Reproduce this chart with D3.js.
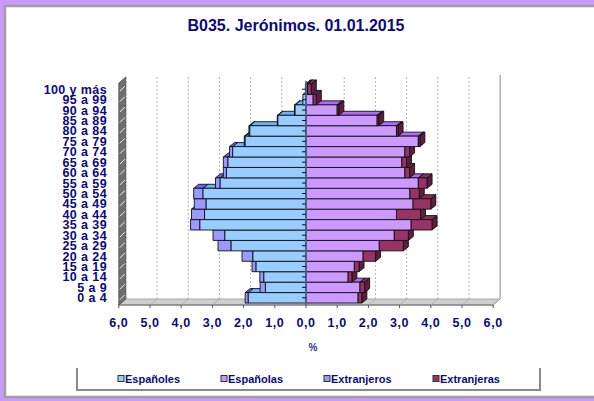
<!DOCTYPE html>
<html><head><meta charset="utf-8">
<script src="https://cdn.jsdelivr.net/npm/d3@7"></script>
<style>
html,body{margin:0;padding:0;background:#cc99ff;}
svg{display:block;}
text{font-family:"Liberation Sans",Arial,sans-serif;font-weight:bold;}
</style></head>
<body>
<svg id="c" width="594" height="401"></svg>
<script>
const title = "B035. Jerónimos. 01.01.2015";
const categories = ["0 a 4","5 a 9","10 a 14","15 a 19","20 a 24","25 a 29","30 a 34","35 a 39","40 a 44","45 a 49","50 a 54","55 a 59","60 a 64","65 a 69","70 a 74","75 a 79","80 a 84","85 a 89","90 a 94","95 a 99","100 y más"];
const espanoles   = [1.85,1.30,1.35,1.60,1.70,2.40,2.60,3.40,3.25,3.20,3.30,2.75,2.55,2.50,2.35,1.95,1.80,0.90,0.35,0.10,0.02];
const extranjeros = [0.10,0.17,0.13,0.13,0.35,0.42,0.38,0.30,0.42,0.38,0.30,0.15,0.10,0.15,0.10,0.03,0.03,0.02,0.02,0.00,0.00];
const espanolas   = [1.67,1.73,1.35,1.55,1.83,2.35,2.83,3.37,2.90,3.43,3.33,3.60,3.17,3.07,3.17,3.60,2.90,2.28,1.00,0.23,0.05];
const extranjeras = [0.12,0.15,0.12,0.15,0.40,0.77,0.45,0.67,0.77,0.57,0.30,0.28,0.15,0.15,0.15,0.05,0.05,0.05,0.05,0.10,0.12];
const xTicks = [-6,-5,-4,-3,-2,-1,0,1,2,3,4,5,6];
const xTickLabels = ["6,0","5,0","4,0","3,0","2,0","1,0","0,0","1,0","2,0","3,0","4,0","5,0","6,0"];
const seriesNames = ["Españoles","Españolas","Extranjeros","Extranjeras"];
const seriesColors = ["#99ccff","#cc99ff","#9999ff","#993366"];

const svg = d3.select("#c");
const navy = "#0a0a80";

// chart frame
svg.append("rect").attr("x",5).attr("y",6).attr("width",620).attr("height",391)
  .attr("fill","#fff").attr("stroke","#a0a0a0").attr("stroke-width",2.5);

svg.append("text").attr("x",296).attr("y",31).attr("text-anchor","middle")
  .attr("font-size",16).attr("fill",navy).text(title);

const x = d3.scaleLinear().domain([-6,6]).range([118.8,493.2]);
const y = d3.scaleBand().domain(categories).range([303,84]).padding(0);
const DX = 7, DY = -6;     // wall depth
const bx = 5, by = -4;     // bar depth
const yTop = 77, yFloorFront = 305;

// back gridlines
svg.append("g").selectAll("line").data(xTicks.filter(v=>v!==0 && v!==6)).join("line")
  .attr("x1",d=>x(d)+DX).attr("x2",d=>x(d)+DX).attr("y1",yTop).attr("y2",yFloorFront+DY)
  .attr("stroke","#b4b4b4").attr("stroke-dasharray","2,2").attr("stroke-width",1);
svg.append("line").attr("x1",x(6)+DX).attr("x2",x(6)+DX).attr("y1",yTop-2).attr("y2",yFloorFront+DY)
  .attr("stroke","#b0b0b0").attr("stroke-width",1.5);

// floor
svg.append("polygon").attr("points",[[x(-6),yFloorFront],[x(6),yFloorFront],[x(6)+DX,yFloorFront+DY],[x(-6)+DX,yFloorFront+DY]].join(" "))
  .attr("fill","#cfcfcf").attr("stroke","#9a9a9a").attr("stroke-width",0.8);
svg.append("line").attr("x1",x(-6)).attr("x2",x(6)).attr("y1",yFloorFront).attr("y2",yFloorFront)
  .attr("stroke","#6a6a6a").attr("stroke-width",1.2);
svg.append("g").selectAll("line").data(xTicks).join("line")
  .attr("x1",d=>x(d)).attr("x2",d=>x(d)+DX).attr("y1",yFloorFront).attr("y2",yFloorFront+DY)
  .attr("stroke","#a8a8a8").attr("stroke-width",0.8);
svg.append("g").selectAll("line").data(xTicks).join("line")
  .attr("x1",d=>x(d)).attr("x2",d=>x(d)).attr("y1",yFloorFront).attr("y2",yFloorFront+3)
  .attr("stroke","#555").attr("stroke-width",1);

// left wall
svg.append("polygon").attr("points",[[x(-6),yFloorFront],[x(-6)+DX,yFloorFront+DY],[x(-6)+DX,yTop],[x(-6),yTop-DY]].join(" "))
  .attr("fill","#6e6e6e").attr("stroke","#505050").attr("stroke-width",0.8);
const bounds = categories.map(c=>y(c)).concat([y.range()[0]]);
svg.append("g").selectAll("line").data(bounds.slice(0,-1)).join("line")
  .attr("x1",x(-6)+1).attr("x2",x(-6)+DX-1).attr("y1",d=>d+y.bandwidth()*0.5+2).attr("y2",d=>d+y.bandwidth()*0.5+2+DY+1)
  .attr("stroke","#f0f0f0").attr("stroke-width",1);

// bars
function shade(c,k){const h=d3.hsl(c);h.l*=k;return h.toString();}
const gBars = svg.append("g");
function seg(x0,x1,yt,yb,color){
  if (x1-x0 < 0.3) return;
  const g = gBars.append("g").attr("stroke","#111").attr("stroke-width",0.9).attr("stroke-linejoin","round");
  g.append("polygon").attr("points",[[x1,yt],[x1+bx,yt+by],[x1+bx,yb+by],[x1,yb]].join(" ")).attr("fill",shade(color,0.6));
  g.append("polygon").attr("points",[[x0,yt],[x1,yt],[x1+bx,yt+by],[x0+bx,yt+by]].join(" ")).attr("fill",shade(color,0.88));
  g.append("rect").attr("x",x0).attr("y",yt).attr("width",x1-x0).attr("height",yb-yt).attr("fill",color);
}
categories.forEach((c,i)=>{
  const yt = y(c), yb = y(c)+y.bandwidth();
  const m = espanoles[i], me = extranjeros[i], f = espanolas[i], fe = extranjeras[i];
  seg(x(-(m+me)), x(-m), yt, yb, seriesColors[2]);
  seg(x(-m), x(0), yt, yb, seriesColors[0]);
  seg(x(0), x(f), yt, yb, seriesColors[1]);
  seg(x(f), x(f+fe), yt, yb, seriesColors[3]);
});

// zero axis
svg.append("line").attr("x1",x(0)).attr("x2",x(0)).attr("y1",yTop+4).attr("y2",yFloorFront)
  .attr("stroke","#3f6a92").attr("stroke-width",2).attr("opacity",0.85);
svg.append("g").selectAll("line").data(categories).join("line")
  .attr("x1",x(0)-4).attr("x2",x(0)).attr("y1",d=>y(d)+y.bandwidth()/2).attr("y2",d=>y(d)+y.bandwidth()/2)
  .attr("stroke","#111").attr("stroke-width",1);

// y labels
svg.append("g").selectAll("text").data(categories).join("text")
  .attr("x",107).attr("y",d=>y(d)+y.bandwidth()/2+4.5).attr("text-anchor","end")
  .attr("font-size",12.5).attr("letter-spacing",0.4).attr("fill",navy).text(d=>d);

// x labels
svg.append("g").selectAll("text").data(xTicks).join("text")
  .attr("x",d=>x(d)).attr("y",327).attr("text-anchor","middle")
  .attr("font-size",12.5).attr("letter-spacing",0.6).attr("fill",navy).text((d,i)=>xTickLabels[i]);
svg.append("text").attr("x",313).attr("y",351).attr("text-anchor","middle")
  .attr("font-size",10).attr("fill","#2a2aa0").text("%");

// legend
const lg = svg.append("g");
lg.append("path").attr("d","M77,368 L77,390 L540,390 L540,368").attr("fill","none").attr("stroke","#8a8a8a").attr("stroke-width",2);
const legX = [118,221,324,433];
seriesNames.forEach((n,i)=>{
  lg.append("rect").attr("x",legX[i]).attr("y",375.5).attr("width",6).attr("height",6)
    .attr("fill",seriesColors[i]).attr("stroke","#333").attr("stroke-width",1);
  lg.append("text").attr("x",legX[i]+7).attr("y",382.5).attr("font-size",11).attr("fill",navy).text(n);
});
</script>
</body></html>
